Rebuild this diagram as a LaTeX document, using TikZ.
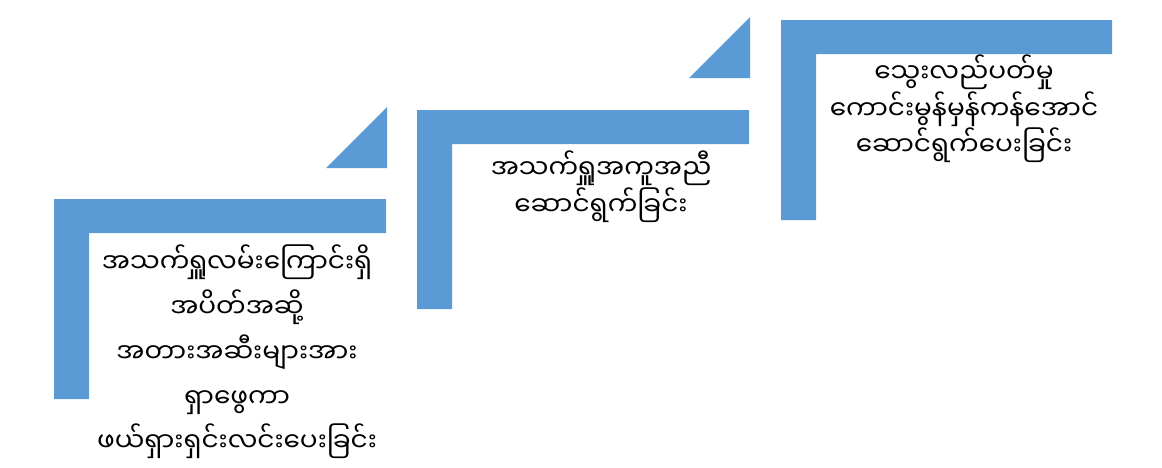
\documentclass[tikz,border=0pt]{standalone}
\usepackage{fontspec}
\usepackage{tikz}
\usepackage{xcolor}
\newfontfamily\myanfont[Script=Myanmar]{Noto Sans Myanmar UI}
\definecolor{stepblue}{HTML}{5B9BD5}

\begin{document}
\begin{tikzpicture}[
    x=0.02cm,
    y=-0.02cm
]

\tikzstyle{bar}=[
    fill=stepblue,
    draw=none
]

\tikzstyle{steptext}=[
    inner sep=0pt,
    align=center,
    font=\myanfont\fontsize{15}{17.5}\selectfont
]

\useasboundingbox (0,0) rectangle (1162,467);

% step 1
\fill[bar] (54,199) -- (386,199) -- (386,233) -- (89,233) -- (89,399) -- (54,399) -- cycle;
\fill[bar] (326,168) -- (387,168) -- (387,107) -- cycle;
\node[steptext, font=\myanfont\fontsize{15}{25.5}\selectfont] (s1) at (237,352) {အသက်ရှူလမ်းကြောင်းရှိ\\အပိတ်အဆို့\\အတားအဆီးများအား\\ရှာဖွေကာ\\ဖယ်ရှားရှင်းလင်းပေးခြင်း};

% step 2
\fill[bar] (417,110) -- (749,110) -- (749,144) -- (452,144) -- (452,309) -- (417,309) -- cycle;
\fill[bar] (689,78) -- (750,78) -- (750,17) -- cycle;
\node[steptext] (s2) at (601,187) {အသက်ရှူအကူအညီ\\ဆောင်ရွက်ခြင်း};

% step 3
\fill[bar] (781,20) -- (1112,20) -- (1112,54) -- (816,54) -- (816,220) -- (781,220) -- cycle;
\node[steptext] (s3) at (964,109) {သွေးလည်ပတ်မှု\\ကောင်းမွန်မှန်ကန်အောင်\\ဆောင်ရွက်ပေးခြင်း};

\end{tikzpicture}
\end{document}
